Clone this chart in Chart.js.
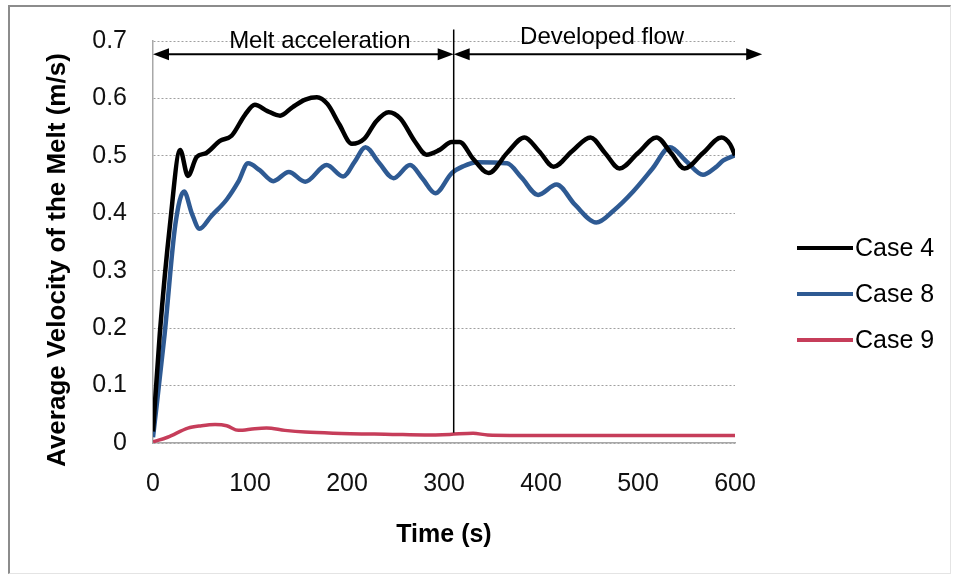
<!DOCTYPE html>
<html>
<head>
<meta charset="utf-8">
<title>Average Velocity of the Melt</title>
<script src="https://cdn.jsdelivr.net/npm/chart.js@4.4.1/dist/chart.umd.min.js"></script>
<style>
  html, body { margin: 0; padding: 0; background: #fff; }
  #wrap { position: relative; width: 964px; height: 578px; }
  #frame {
    position: absolute; left: 8px; top: 5px; width: 940px; height: 566px;
    border-left: 2px solid #8c8c8c; border-top: 2px solid #8c8c8c;
    border-right: 1px solid #e4e4e4; border-bottom: 1px solid #e4e4e4;
    pointer-events: none;
  }
  canvas { position: absolute; left: 0; top: 0; }
</style>
</head>
<body>
<div id="wrap">
  <canvas id="myChart" width="964" height="578"></canvas>
  <div id="frame"></div>
</div>
<script>
// --- data ---
const case4Time = [0, 7, 17.5, 28, 36, 45, 55, 69, 81, 95, 105, 118, 131, 144, 157, 169, 180, 192, 205, 218, 230, 243, 255, 270, 282, 295, 308, 316, 330, 346, 365, 383, 398, 413, 432, 451, 466, 481, 500, 519, 534, 548, 567, 586, 595, 600];
const case4Vel  = [0.02, 0.19, 0.38, 0.51, 0.465, 0.498, 0.505, 0.526, 0.535, 0.572, 0.589, 0.578, 0.570, 0.585, 0.598, 0.602, 0.590, 0.555, 0.521, 0.530, 0.560, 0.576, 0.565, 0.525, 0.502, 0.510, 0.524, 0.524, 0.495, 0.470, 0.505, 0.532, 0.508, 0.481, 0.508, 0.532, 0.505, 0.478, 0.505, 0.532, 0.505, 0.478, 0.505, 0.532, 0.520, 0.501];

const case8Time = [0, 12, 23, 32, 40, 48, 60, 76, 88, 98, 110, 124, 140, 157, 179, 196, 208, 219, 233, 248, 265, 278, 291, 308, 320, 334, 365, 380, 397, 416, 435, 457, 475, 495, 515, 533, 550, 567, 580, 588, 600];
const case8Vel  = [0.01, 0.19, 0.38, 0.438, 0.40, 0.373, 0.395, 0.424, 0.455, 0.487, 0.475, 0.456, 0.472, 0.455, 0.484, 0.464, 0.490, 0.515, 0.488, 0.461, 0.484, 0.460, 0.435, 0.470, 0.482, 0.489, 0.487, 0.462, 0.432, 0.450, 0.415, 0.384, 0.405, 0.438, 0.478, 0.515, 0.490, 0.467, 0.480, 0.492, 0.501];

const case9Time = [0, 15, 36, 50, 64, 76, 88, 105, 117, 136, 157, 186, 247, 280, 306, 330, 345, 400, 600];
const case9Vel  = [0.002, 0.010, 0.026, 0.030, 0.032, 0.030, 0.022, 0.025, 0.026, 0.022, 0.019, 0.017, 0.015, 0.014, 0.015, 0.017, 0.014, 0.013, 0.013];

const seriesLabels = ['Case 4', 'Case 8', 'Case 9'];
const seriesColors = ['#000000', '#2E5A93', '#C63D5A'];

// phase markers (data units)
const dividerTime = 310;
const arrowLevel = 0.677;
const arrowEnd = 628;
const phaseLabels = [
    { text: 'Melt acceleration', t: 172, v: 0.688 },
    { text: 'Developed flow', t: 463, v: 0.694 }
];

const FONT = '"Liberation Sans", Arial, sans-serif';

function toPoints(ts, vs) {
    return ts.map((t, i) => ({ x: t, y: vs[i] }));
}

function drawArrow(ctx, x1, x2, yy) {
    const head = 16, half = 6;
    ctx.beginPath();
    ctx.moveTo(x1 + head - 2, yy);
    ctx.lineTo(x2 - head + 2, yy);
    ctx.stroke();
    ctx.beginPath();
    ctx.moveTo(x1, yy);
    ctx.lineTo(x1 + head, yy - half);
    ctx.lineTo(x1 + head, yy + half);
    ctx.closePath();
    ctx.fill();
    ctx.beginPath();
    ctx.moveTo(x2, yy);
    ctx.lineTo(x2 - head, yy - half);
    ctx.lineTo(x2 - head, yy + half);
    ctx.closePath();
    ctx.fill();
}

// arrows, divider line, phase captions and the legend on the right
const overlay = {
    id: 'overlay',
    afterDatasetsDraw(chart) {
        const { ctx, scales: { x, y } } = chart;
        ctx.save();
        ctx.strokeStyle = '#000';
        ctx.fillStyle = '#000';

        ctx.lineWidth = 1.5;
        const dx = x.getPixelForValue(dividerTime);
        ctx.beginPath();
        ctx.moveTo(dx, y.getPixelForValue(0.72));
        ctx.lineTo(dx, y.getPixelForValue(0.018));
        ctx.stroke();

        ctx.lineWidth = 2;
        const ay = y.getPixelForValue(arrowLevel);
        drawArrow(ctx, x.getPixelForValue(0), dx, ay);
        drawArrow(ctx, dx, x.getPixelForValue(arrowEnd), ay);

        ctx.font = '24px ' + FONT;
        ctx.textAlign = 'center';
        ctx.textBaseline = 'alphabetic';
        phaseLabels.forEach(p => {
            ctx.fillText(p.text, x.getPixelForValue(p.t), y.getPixelForValue(p.v));
        });
        ctx.restore();
    },
    afterDraw(chart) {
        const ctx = chart.ctx;
        ctx.save();
        ctx.font = '25px ' + FONT;
        ctx.textAlign = 'left';
        ctx.textBaseline = 'middle';
        chart.data.datasets.forEach((ds, i) => {
            const yy = 248 + i * 46;
            ctx.strokeStyle = ds.borderColor;
            ctx.lineWidth = 4;
            ctx.beginPath();
            ctx.moveTo(797, yy);
            ctx.lineTo(853, yy);
            ctx.stroke();
            ctx.fillStyle = '#000';
            ctx.fillText(ds.label, 855, yy + 1);
        });
        ctx.restore();
    }
};

const datasets = [
    toPoints(case4Time, case4Vel),
    toPoints(case8Time, case8Vel),
    toPoints(case9Time, case9Vel)
].map((pts, i) => ({
    label: seriesLabels[i],
    data: pts,
    borderColor: seriesColors[i],
    backgroundColor: seriesColors[i],
    borderWidth: i === 2 ? 3.5 : 4.5,
    pointRadius: 0,
    cubicInterpolationMode: 'monotone',
    fill: false
}));

new Chart(document.getElementById('myChart'), {
    type: 'line',
    data: { datasets: datasets },
    options: {
        responsive: false,
        animation: false,
        events: [],
        layout: { padding: { left: 0, right: 229, top: 34, bottom: 27 } },
        plugins: {
            legend: { display: false },
            tooltip: { enabled: false }
        },
        scales: {
            x: {
                type: 'linear',
                min: 0,
                max: 600,
                grid: { display: false, drawTicks: false },
                border: { display: true, color: '#a8a8a8', width: 1.5 },
                ticks: {
                    stepSize: 100,
                    padding: 26,
                    color: '#111',
                    font: { family: FONT, size: 25 }
                },
                title: {
                    display: true,
                    text: 'Time (s)',
                    color: '#000',
                    font: { family: FONT, size: 25, weight: 'bold' },
                    padding: { top: 0, bottom: 1 }
                },
                afterFit: (scale) => { scale.height = 108; }
            },
            y: {
                min: 0,
                max: 0.7,
                grid: { color: '#a0a0a0', lineWidth: 1, drawTicks: false },
                border: { display: true, color: '#a8a8a8', width: 1.5, dash: [2, 2] },
                ticks: {
                    stepSize: 0.1,
                    padding: 26,
                    color: '#111',
                    font: { family: FONT, size: 25 },
                    callback: (v) => v === 0 ? '0' : v.toFixed(1)
                },
                title: {
                    display: true,
                    // trailing spaces push the caption a little lower, as in the source figure
                    text: 'Average Velocity of the Melt (m/s)     ',
                    color: '#000',
                    font: { family: FONT, size: 26, weight: 'bold' },
                    padding: { top: 42, bottom: 0 }
                },
                afterFit: (scale) => { scale.width = 153; }
            }
        }
    },
    plugins: [overlay]
});
</script>
</body>
</html>
